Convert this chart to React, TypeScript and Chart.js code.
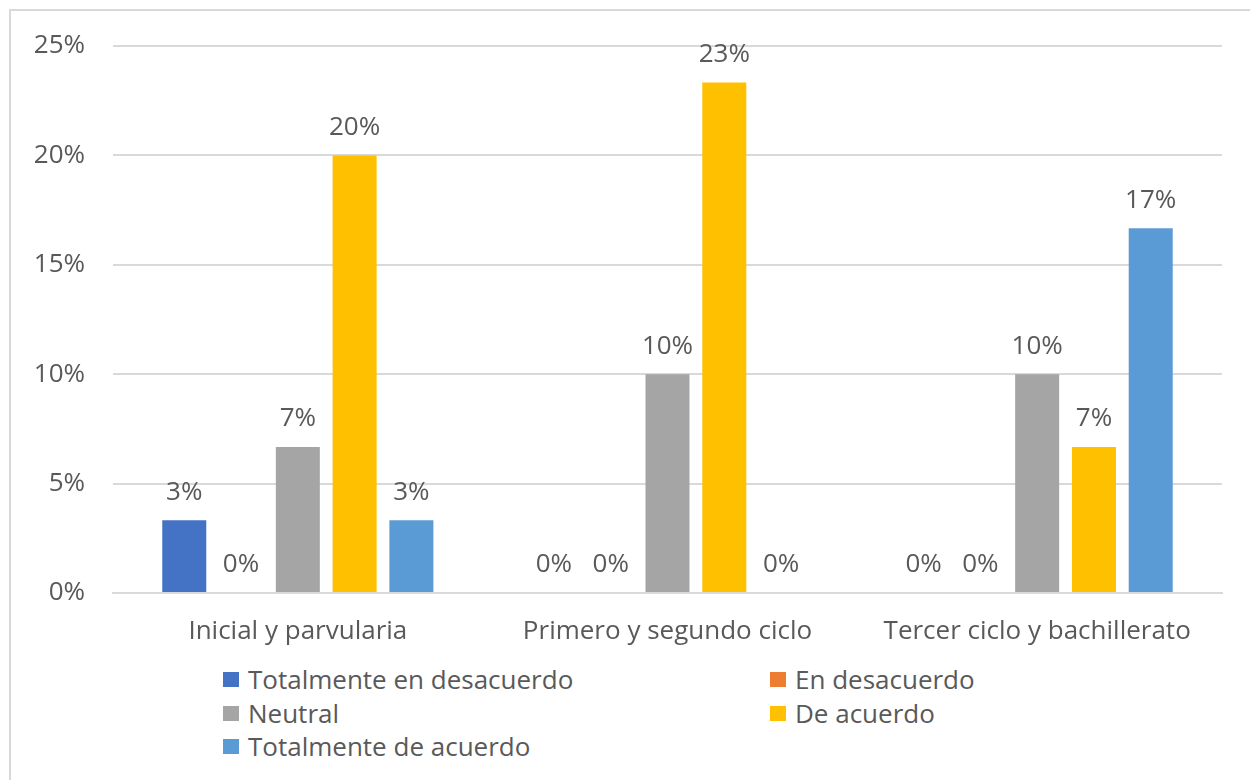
import React, { useEffect, useRef } from "react";
import { Chart, registerables } from "chart.js";

Chart.register(...registerables);

const categories = ["Inicial y parvularia", "Primero y segundo ciclo", "Tercer ciclo y bachillerato"];
const seriesNames = ["Totalmente en desacuerdo", "En desacuerdo", "Neutral", "De acuerdo", "Totalmente de acuerdo"];
const seriesColors = ["#4472C4", "#ED7D31", "#A5A5A5", "#FFC000", "#5B9BD5"];
const totalDesacuerdo = [3.33, 0, 0];
const enDesacuerdo = [0, 0, 0];
const neutral = [6.67, 10, 10];
const deAcuerdo = [20, 23.33, 6.67];
const totalAcuerdo = [3.33, 0, 16.67];
const seriesValues = [totalDesacuerdo, enDesacuerdo, neutral, deAcuerdo, totalAcuerdo];
const yTicks = [0, 5, 10, 15, 20, 25];

const FONT = "'Open Sans', sans-serif";
const FS = 26;
const TEXT = "#595959";
const GRID = "#d9d9d9";

const labelPlugin = {
  id: "barLabels",
  afterDatasetsDraw(chart: any) {
    const ctx = chart.ctx;
    ctx.save();
    ctx.font = `${FS}px ${FONT}`;
    ctx.fillStyle = TEXT;
    ctx.textAlign = "center";
    ctx.textBaseline = "middle";
    chart.data.datasets.forEach((ds: any, i: number) => {
      const meta = chart.getDatasetMeta(i);
      meta.data.forEach((bar: any, j: number) => {
        const v = ds.data[j];
        ctx.fillText(Math.round(v) + "%", bar.x, bar.y - 28);
      });
    });
    ctx.restore();
  },
};

export default function App() {
  const ref = useRef<HTMLCanvasElement>(null);
  useEffect(() => {
    if (!ref.current) return;
    const chart = new Chart(ref.current, {
      type: "bar",
      data: {
        labels: categories,
        datasets: seriesNames.map((n, i) => ({
          label: n,
          data: seriesValues[i],
          backgroundColor: seriesColors[i],
          borderWidth: 0,
          categoryPercentage: 0.768,
          barPercentage: 0.775,
        })),
      },
      options: {
        animation: false,
        responsive: false,
        maintainAspectRatio: false,
        layout: { padding: { left: 0, right: 28, top: 46, bottom: 0 } },
        plugins: { legend: { display: false }, tooltip: { enabled: false } },
        scales: {
          x: {
            grid: { display: false, drawTicks: false },
            border: { color: GRID, width: 2 },
            ticks: { color: TEXT, font: { family: FONT, size: FS }, padding: 23 },
            afterFit: (s: any) => { s.height = 67; },
          },
          y: {
            min: 0,
            max: 25,
            afterBuildTicks: (s: any) => { s.ticks = yTicks.map((v) => ({ value: v })); },
            grid: { color: GRID, lineWidth: 2, drawTicks: false },
            border: { display: false },
            ticks: {
              color: TEXT,
              font: { family: FONT, size: FS },
              padding: 28,
              callback: (v: any) => v + "%",
            },
            afterFit: (s: any) => { s.width = 113; },
          },
        },
      },
      plugins: [labelPlugin],
    });
    return () => chart.destroy();
  }, []);

  const legendItem = (i: number, left: number, top: number) => (
    <div key={i} style={{ position: "absolute", left, top, height: 33, display: "flex", alignItems: "center" }}>
      <div style={{ width: 16, height: 15, background: seriesColors[i], marginRight: 9 }} />
      <span style={{ font: `${FS}px ${FONT}`, lineHeight: "33px", color: TEXT, whiteSpace: "nowrap" }}>{seriesNames[i]}</span>
    </div>
  );

  return (
    <div style={{ position: "fixed", left: 0, top: 0, width: 1250, height: 780, background: "#fff", overflow: "hidden" }}>
      <div style={{ position: "absolute", left: 9, top: 9, width: 1300, height: 900, border: `2px solid ${GRID}`, boxSizing: "border-box" }} />
      <canvas ref={ref} width={1250} height={660} style={{ position: "absolute", left: 0, top: 0, width: 1250, height: 660 }} />
      {legendItem(0, 223, 663)}
      {legendItem(1, 770, 663)}
      {legendItem(2, 223, 697)}
      {legendItem(3, 770, 697)}
      {legendItem(4, 223, 730)}
    </div>
  );
}
